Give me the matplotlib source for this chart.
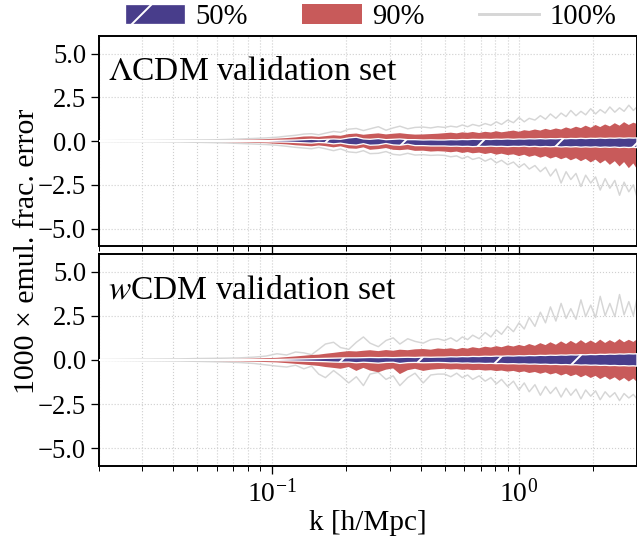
import numpy as np
import matplotlib
matplotlib.use("Agg")
from matplotlib import pyplot as plt
from matplotlib.patches import Patch
from matplotlib.lines import Line2D

# wavenumbers [h/Mpc]
k = [0.020, 0.025, 0.030, 0.036, 0.043, 0.050, 0.058, 0.066, 0.075, 0.085, 0.095,
     0.105, 0.115, 0.125, 0.135, 0.145, 0.155, 0.165, 0.178, 0.190, 0.205,
     0.220, 0.235, 0.250, 0.270, 0.290, 0.310, 0.330, 0.355, 0.380, 0.410, 0.440, 0.470,
     0.50, 0.53, 0.56, 0.59, 0.62, 0.65, 0.69, 0.73, 0.77, 0.81,
     0.85, 0.90, 0.95, 1.00, 1.05, 1.10, 1.16, 1.22, 1.28, 1.34,
     1.41, 1.48, 1.55, 1.62, 1.70, 1.78, 1.86, 1.95, 2.04, 2.13,
     2.23, 2.33, 2.44, 2.55, 2.66, 2.78, 2.90, 3.00]

# LCDM validation set: percentile envelopes of 1000 x frac. error
lcdm_50_hi = [0.00, 0.00, 0.01, 0.01, 0.01, 0.01, 0.01, 0.02, 0.02, 0.03, 0.03,
              0.04, 0.05, 0.06, 0.08, 0.10, 0.08, 0.10, 0.12, 0.10, 0.18, 0.22, 0.12, 0.10, 0.14, 0.08, 0.10, 0.12, 0.08, 0.08, 0.06, 0.07, 0.06,
              0.06, 0.08, 0.07, 0.09, 0.08, 0.10, 0.09, 0.10, 0.09, 0.11, 0.10, 0.12, 0.10, 0.12, 0.11, 0.13, 0.12, 0.14, 0.12, 0.14,
              0.13, 0.15, 0.13, 0.15, 0.14, 0.16, 0.14, 0.16, 0.15, 0.17, 0.15, 0.17, 0.16, 0.18, 0.16, 0.18, 0.17, 0.18]
lcdm_50_lo = [0.00, -0.01, -0.01, -0.01, -0.01, -0.02, -0.02, -0.02, -0.03, -0.03, -0.04,
              -0.05, -0.06, -0.08, -0.10, -0.12, -0.08, -0.10, -0.16, -0.12, -0.20, -0.23, -0.15, -0.24, -0.22, -0.14, -0.22, -0.24, -0.18, -0.26, -0.26, -0.28, -0.28,
              -0.28, -0.30, -0.29, -0.31, -0.30, -0.32, -0.30, -0.31, -0.29, -0.31, -0.30, -0.32, -0.30, -0.31, -0.29, -0.32, -0.30, -0.33, -0.31, -0.33,
              -0.31, -0.34, -0.32, -0.34, -0.32, -0.35, -0.33, -0.35, -0.33, -0.36, -0.34, -0.36, -0.34, -0.37, -0.35, -0.37, -0.35, -0.38]
lcdm_90_hi = [0.01, 0.01, 0.02, 0.02, 0.03, 0.03, 0.04, 0.05, 0.07, 0.09, 0.11,
              0.14, 0.17, 0.21, 0.26, 0.27, 0.24, 0.28, 0.33, 0.30, 0.40, 0.43, 0.36, 0.40, 0.44, 0.38, 0.42, 0.45, 0.40, 0.37, 0.38, 0.40, 0.42,
              0.45, 0.48, 0.44, 0.50, 0.47, 0.52, 0.46, 0.53, 0.49, 0.56, 0.50, 0.55, 0.60, 0.53, 0.62, 0.58, 0.66, 0.60, 0.70, 0.63,
              0.72, 0.66, 0.78, 0.70, 0.82, 0.74, 0.88, 0.76, 0.92, 0.80, 0.95, 0.84, 1.02, 0.88, 1.08, 0.92, 1.05, 0.98]
lcdm_90_lo = [-0.01, -0.01, -0.02, -0.02, -0.03, -0.04, -0.05, -0.06, -0.08, -0.10, -0.12,
              -0.16, -0.19, -0.24, -0.27, -0.30, -0.25, -0.29, -0.36, -0.30, -0.42, -0.44, -0.36, -0.50, -0.46, -0.40, -0.50, -0.52, -0.48, -0.56, -0.55, -0.60, -0.58,
              -0.60, -0.64, -0.60, -0.68, -0.63, -0.70, -0.66, -0.74, -0.68, -0.78, -0.72, -0.80, -0.76, -0.86, -0.78, -0.90, -0.82, -0.95, -0.86, -1.00,
              -0.90, -1.04, -0.94, -1.10, -0.98, -1.15, -1.02, -1.22, -1.06, -1.28, -1.10, -1.36, -1.15, -1.45, -1.20, -1.55, -1.28, -1.60]
lcdm_100_hi = [0.02, 0.03, 0.03, 0.04, 0.05, 0.06, 0.07, 0.09, 0.12, 0.15, 0.18,
               0.22, 0.28, 0.33, 0.40, 0.42, 0.36, 0.45, 0.55, 0.50, 0.68, 0.72, 0.60, 0.70, 0.82, 0.62, 0.75, 0.85, 0.70, 0.78, 0.80, 0.75, 0.82,
               0.78, 0.85, 0.80, 0.92, 0.82, 0.95, 0.86, 1.00, 0.90, 1.10, 0.95, 1.20, 1.05, 1.35, 1.10, 1.30, 1.20, 1.45, 1.25, 1.55,
               1.30, 1.60, 1.40, 1.75, 1.45, 1.70, 1.50, 1.85, 1.55, 1.80, 1.60, 1.95, 1.65, 1.90, 1.70, 2.05, 1.75, 1.95]
lcdm_100_lo = [-0.02, -0.03, -0.03, -0.04, -0.05, -0.07, -0.09, -0.11, -0.14, -0.17, -0.20,
               -0.24, -0.30, -0.36, -0.40, -0.44, -0.36, -0.44, -0.55, -0.45, -0.62, -0.66, -0.55, -0.72, -0.70, -0.60, -0.76, -0.80, -0.70, -0.80, -0.78, -0.82, -0.80,
               -0.82, -0.90, -0.85, -1.00, -0.88, -1.05, -0.95, -1.15, -1.00, -1.25, -1.10, -1.35, -1.20, -1.50, -1.30, -1.60, -1.40, -1.75, -1.50, -2.00,
               -1.60, -2.40, -1.75, -2.20, -1.85, -2.60, -1.95, -2.40, -2.05, -2.80, -2.15, -2.70, -2.25, -3.10, -2.35, -2.90, -2.50, -3.20]

# wCDM validation set
wcdm_50_hi = [0.00, 0.00, 0.01, 0.01, 0.01, 0.01, 0.01, 0.01, 0.02, 0.02, 0.02,
              0.03, 0.04, 0.05, 0.06, 0.07, 0.08, 0.09, 0.10, 0.11, 0.12, 0.12, 0.13, 0.14, 0.13, 0.14, 0.13, 0.14, 0.15, 0.14, 0.16, 0.15, 0.16,
              0.16, 0.18, 0.17, 0.19, 0.18, 0.20, 0.19, 0.21, 0.20, 0.22, 0.21, 0.23, 0.22, 0.24, 0.23, 0.25, 0.24, 0.26, 0.25, 0.27,
              0.26, 0.28, 0.27, 0.29, 0.28, 0.30, 0.29, 0.31, 0.30, 0.32, 0.31, 0.33, 0.32, 0.34, 0.33, 0.35, 0.34, 0.35]
wcdm_50_lo = [0.00, -0.01, -0.01, -0.01, -0.01, -0.01, -0.02, -0.02, -0.02, -0.03, -0.03,
              -0.04, -0.05, -0.06, -0.07, -0.08, -0.09, -0.10, -0.12, -0.13, -0.12, -0.16, -0.13, -0.15, -0.18, -0.14, -0.13, -0.20, -0.15, -0.14, -0.16, -0.15, -0.14,
              -0.15, -0.17, -0.16, -0.18, -0.17, -0.19, -0.18, -0.20, -0.19, -0.21, -0.20, -0.22, -0.21, -0.23, -0.22, -0.24, -0.23, -0.25, -0.24, -0.26,
              -0.25, -0.27, -0.26, -0.28, -0.27, -0.29, -0.28, -0.30, -0.29, -0.31, -0.30, -0.32, -0.31, -0.33, -0.32, -0.34, -0.33, -0.35]
wcdm_90_hi = [0.01, 0.01, 0.02, 0.02, 0.03, 0.04, 0.05, 0.05, 0.06, 0.08, 0.10,
              0.12, 0.16, 0.20, 0.24, 0.28, 0.30, 0.35, 0.40, 0.45, 0.50, 0.48, 0.52, 0.55, 0.50, 0.56, 0.52, 0.58, 0.55, 0.60, 0.62, 0.58, 0.65,
              0.62, 0.66, 0.60, 0.68, 0.64, 0.72, 0.66, 0.75, 0.70, 0.78, 0.72, 0.82, 0.76, 0.85, 0.78, 0.90, 0.80, 0.95, 0.84, 1.00,
              0.86, 1.05, 0.90, 1.08, 0.92, 1.12, 0.94, 1.10, 0.95, 1.15, 0.96, 1.12, 0.98, 1.18, 1.00, 1.14, 1.02, 1.16]
wcdm_90_lo = [-0.01, -0.02, -0.02, -0.03, -0.04, -0.05, -0.06, -0.07, -0.08, -0.10, -0.12,
              -0.14, -0.18, -0.22, -0.26, -0.30, -0.34, -0.40, -0.45, -0.50, -0.40, -0.62, -0.45, -0.60, -0.70, -0.55, -0.48, -0.80, -0.58, -0.50, -0.62, -0.55, -0.52,
              -0.50, -0.54, -0.52, -0.56, -0.54, -0.58, -0.56, -0.60, -0.58, -0.63, -0.60, -0.66, -0.62, -0.70, -0.65, -0.74, -0.68, -0.78, -0.70, -0.82,
              -0.74, -0.88, -0.78, -0.92, -0.82, -0.98, -0.86, -1.02, -0.90, -1.08, -0.94, -1.12, -0.98, -1.18, -1.02, -1.22, -1.05, -1.25]
wcdm_100_hi = [0.02, 0.03, 0.04, 0.05, 0.06, 0.08, 0.09, 0.10, 0.12, 0.16, 0.22,
               0.35, 0.28, 0.45, 0.40, 0.30, 0.60, 0.90, 1.00, 0.70, 0.60, 1.00, 1.30, 0.95, 0.75, 1.10, 1.25, 0.90, 1.20, 1.05, 0.95, 1.15, 1.20,
               1.10, 1.25, 1.05, 1.30, 1.15, 1.40, 1.20, 1.55, 1.30, 1.70, 1.45, 1.90, 1.60, 2.10, 1.75, 2.40, 1.90, 2.70, 2.10, 3.00,
               2.20, 3.20, 2.35, 2.90, 2.30, 3.40, 2.45, 3.10, 2.40, 3.60, 2.50, 3.20, 2.45, 3.70, 2.55, 3.30, 2.50, 3.50]
wcdm_100_lo = [-0.02, -0.03, -0.04, -0.05, -0.06, -0.08, -0.10, -0.12, -0.15, -0.20, -0.28,
               -0.35, -0.40, -0.30, -0.50, -0.35, -0.80, -1.00, -0.60, -0.90, -1.30, -0.95, -1.45, -0.80, -0.70, -1.10, -0.90, -1.45, -1.00, -0.75, -1.30, -0.85, -0.80,
               -0.80, -0.95, -0.75, -1.00, -0.85, -1.10, -0.90, -1.20, -1.00, -1.35, -1.10, -1.50, -1.20, -1.70, -1.30, -1.80, -1.40, -2.00, -1.50, -1.90,
               -1.55, -2.10, -1.60, -2.00, -1.65, -2.20, -1.70, -2.05, -1.75, -2.25, -1.80, -2.10, -1.85, -2.30, -1.90, -2.15, -1.95, -2.20]

col50 = "#483d8b"
col90 = "#c85a5a"
col100 = "#d6d6d6"

DPI = 234
plt.rcParams["font.family"] = ["Liberation Serif", "DejaVu Serif"]
plt.rcParams["mathtext.fontset"] = "stix"
plt.rcParams["font.size"] = 8.2
plt.rcParams["axes.linewidth"] = 0.6
plt.rcParams["hatch.linewidth"] = 0.6
plt.rcParams["xtick.major.size"] = 2.4
plt.rcParams["xtick.minor.size"] = 1.5
plt.rcParams["ytick.major.size"] = 2.4
plt.rcParams["xtick.major.width"] = 0.4
plt.rcParams["xtick.minor.width"] = 0.3
plt.rcParams["ytick.major.width"] = 0.4
plt.rcParams["xtick.major.pad"] = 1.5
plt.rcParams["ytick.major.pad"] = 1.5
plt.rcParams["xtick.labelsize"] = 8.6
plt.rcParams["ytick.labelsize"] = 8.2

fig = plt.figure(figsize=(637 / DPI, 539 / DPI), dpi=DPI)
ax1 = fig.add_axes([0.155, 0.5436, 0.845, 0.3894])
ax2 = fig.add_axes([0.155, 0.1354, 0.845, 0.3936], sharex=ax1)


def draw_panel(ax, lo100, hi100, lo90, hi90, lo50, hi50, title):
    ax.plot(k, hi100, color=col100, lw=0.45, zorder=1)
    ax.plot(k, lo100, color=col100, lw=0.45, zorder=1)
    ax.fill_between(k, lo90, hi90, facecolor=col90, edgecolor="none", zorder=2)
    ax.fill_between(k, lo50, hi50, facecolor=col50, edgecolor="white",
                    hatch="/", lw=0.4, zorder=3)
    ax.set_xscale("log")
    ax.set_xlim(0.02, 3.0)
    ax.set_ylim(-6, 6)
    ax.set_yticks([-5, -2.5, 0, 2.5, 5])
    ax.grid(True, which="major", color="#d0d0d0", ls=":", lw=0.35)
    ax.grid(True, which="minor", axis="x", color="#d0d0d0", ls=":", lw=0.35)
    ax.text(0.018, 0.83, title, transform=ax.transAxes, fontsize=10.3, va="center")


draw_panel(ax1, lcdm_100_lo, lcdm_100_hi, lcdm_90_lo, lcdm_90_hi,
           lcdm_50_lo, lcdm_50_hi, r"$\Lambda$CDM validation set")
draw_panel(ax2, wcdm_100_lo, wcdm_100_hi, wcdm_90_lo, wcdm_90_hi,
           wcdm_50_lo, wcdm_50_hi, r"$w$CDM validation set")

plt.setp(ax1.get_xticklabels(), visible=False)
ax2.set_xlabel("k [h/Mpc]", labelpad=1, fontsize=9)
fig.text(0.042, 0.534, "1000 \u00d7 emul. frac. error", rotation=90,
         ha="center", va="center", fontsize=9.2)

handles = [Patch(facecolor=col50, edgecolor="white", hatch="/", lw=0.4),
           Patch(facecolor=col90, edgecolor="none"),
           Line2D([], [], color=col100, lw=0.9)]
ax1.legend(handles, ["50%", "90%", "100%"], loc="center",
           bbox_to_anchor=(0.505, 1.09), ncol=3, frameon=False, fontsize=8.8,
           handlelength=2.1, handleheight=0.7, columnspacing=1.9,
           handletextpad=0.35, borderpad=0.0)

fig.savefig("out.png", dpi=DPI)
